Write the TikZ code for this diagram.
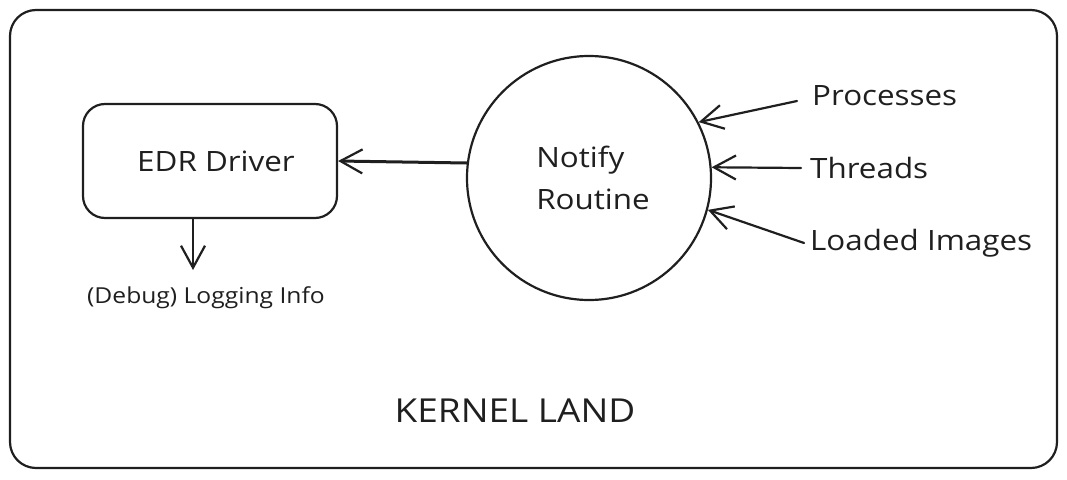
\documentclass[tikz,border=0pt]{standalone}
\usepackage{fontspec}
\setmainfont{Open Sans}[FakeStretch=1.12]
\usetikzlibrary{arrows.meta}

\begin{document}
\begin{tikzpicture}[x=1pt,y=-1pt]
    \tikzstyle{hand}=[line width=2.2pt,line cap=round,line join=round,draw=black!88]
    \tikzstyle{arr}=[hand,-{Straight Barb[length=22pt,width=24pt,line width=2.2pt]}]
    \tikzstyle{txt}=[font=\fontsize{28}{42}\selectfont,text=black!88]
    \tikzstyle{side}=[txt,anchor=west,inner sep=0pt]
    \useasboundingbox (0,0) rectangle (1067,479);
    \draw[hand,rounded corners=26pt] (10,10) rectangle (1057,468);
    % the driver and the routine
    \node[hand,draw,txt,rounded corners=22pt,minimum width=254pt,minimum height=114pt] (edr) at (210,161) {\hspace*{12pt}EDR Driver};
    \node[hand,draw,txt,circle,inner sep=0pt,minimum size=244pt,align=left] (notify) at (589,178) {\hspace*{8pt}Notify\\\hspace*{8pt}Routine};
    \node[txt,font=\fontsize{22}{26}\selectfont] (log) at (206,298) {(Debug) Logging Info};
    \coordinate (logtip) at (193,270);
    % sources on the right
    \node[side] (proc) at (812,96) {Processes};
    \node[side] (thr) at (810,168) {Threads};
    \node[side] (img) at (810,243) {Loaded Images};
    \node[txt,font=\fontsize{33}{38}\selectfont] (land) at (515,411) {KERNEL LAND};
    \draw[arr,line width=3pt] (notify.173) -- (edr.east);
    \draw[arr] ([xshift=-17pt]edr.south) -- (logtip);
    \draw[arr] ([xshift=-15pt,yshift=-5pt]proc.west) -- (notify.27);
    \draw[arr] ([xshift=-9pt]thr.west) -- (notify.5);
    \draw[arr] ([xshift=-6pt]img.west) -- (notify.-15);
\end{tikzpicture}
\end{document}
